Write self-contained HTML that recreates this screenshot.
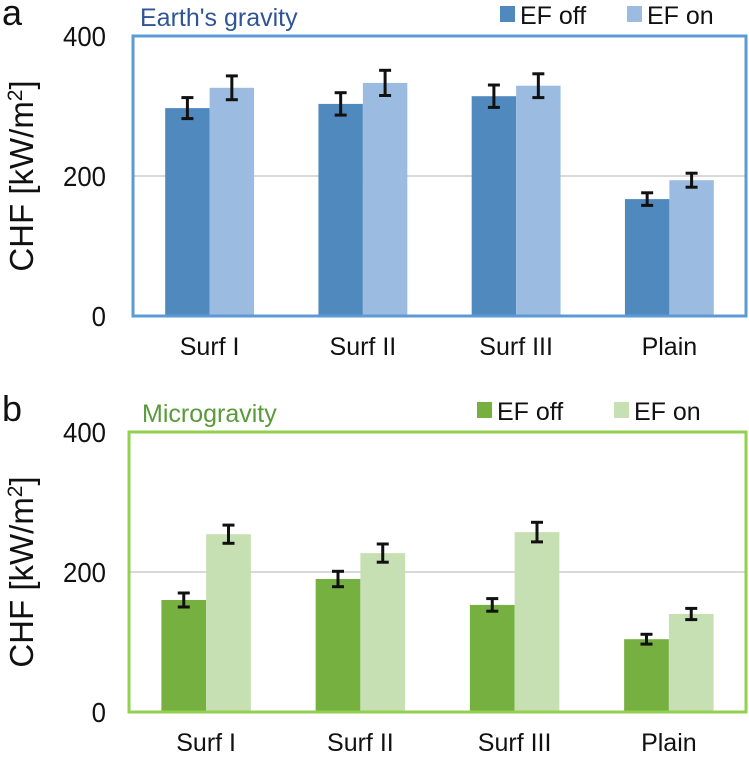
<!DOCTYPE html>
<html><head><meta charset="utf-8"><style>
html,body{margin:0;padding:0;background:#fff;}
svg{display:block;font-family:"Liberation Sans",Arial,sans-serif;}
</style></head><body>
<svg id="chart" width="749" height="758" viewBox="0 0 749 758"></svg>
<script>
const categories = ["Surf I","Surf II","Surf III","Plain"];
const yTicks = [0,200,400];
const earthOff = [297,303,314,167];
const earthOn = [326,333,329,194];
const earthOffErr = [15,16,16,9];
const earthOnErr = [17,18,17,10];
const microOff = [160,190,153,104];
const microOn = [254,227,257,140];
const microOffErr = [10,11,9,7];
const microOnErr = [13,13,14,8];

const NS="http://www.w3.org/2000/svg";
const svg=document.getElementById('chart');
function mk(tag,attrs,parent,text){const e=document.createElementNS(NS,tag);for(const k in attrs)e.setAttribute(k,attrs[k]);if(text!==undefined)e.textContent=text;(parent||svg).appendChild(e);return e;}

function panel(cfg){
  const g=mk('g',{});
  
  
  const L=cfg.left,R=746,T=cfg.top,B=cfg.bottom;
  const y=v=>B-(v/400)*(B-T);
  const cw=(R-L)/categories.length;
  const bw=cw*0.29;
  const x=i=>L+cw*(i+0.5);
  const gl=mk('line',{x1:L,x2:R,y1:y(200),y2:y(200),stroke:'#d9d9d9','stroke-width':2},g);
  
  
  const series=[[cfg.off,cfg.offErr,cfg.cOff,-1,'off'],[cfg.on,cfg.onErr,cfg.cOn,0,'on']];
  series.forEach(s=>{
    s[0].forEach((v,i)=>{
      const bx=x(i)+s[3]*bw;
      const r=mk('rect',{x:bx,y:y(v),width:bw,height:B-y(v),fill:s[2]},g);
      
      
    });
  });
  series.forEach(s=>{
    s[0].forEach((v,i)=>{
      const cx=x(i)+s[3]*bw+bw/2;
      const e=s[1][i];
      const eg=mk('g',{stroke:'#111','stroke-width':3},g);
      
      
      mk('line',{x1:cx,x2:cx,y1:y(v+e),y2:y(v-e)},eg);
      mk('line',{x1:cx-6,x2:cx+6,y1:y(v+e),y2:y(v+e)},eg);
      mk('line',{x1:cx-6,x2:cx+6,y1:y(v-e),y2:y(v-e)},eg);
    });
  });
  const ax=mk('line',{x1:L,x2:R,y1:B,y2:B,stroke:'#c8c8c8','stroke-width':3},g);
  
  
  const fr=mk('rect',{x:L,y:T,width:R-L,height:B-T,fill:'none',stroke:cfg.frame,'stroke-width':3},g);
  
  
  yTicks.forEach(t=>{
    const tx=mk('text',{x:106,y:y(t)+10,'text-anchor':'end','font-size':28,fill:'#111','transform':`translate(106 0) scale(0.92 1) translate(-106 0)`},g,String(t));
    
    
  });
  categories.forEach((c,i)=>{
    const tx=mk('text',{x:x(i),y:B+39,'text-anchor':'middle','font-size':25,fill:'#111'},g,c);
    
    
  });
  const yt=mk('text',{x:0,y:0,'text-anchor':'middle','font-size':33,fill:'#111',transform:`translate(33 ${(T+B)/2}) rotate(-90)`},g);
  
  
  mk('tspan',{},yt,'CHF [kW/m');
  mk('tspan',{dy:-11,'font-size':21},yt,'2');
  mk('tspan',{dy:11},yt,']');
  const pl=mk('text',{x:2,y:cfg.top-11,'font-size':36,fill:'#111'},g,cfg.letter);
  
  
  const tt=mk('text',{x:cfg.titleX,y:cfg.top-10,'font-size':cfg.titleSize,fill:cfg.titleColor},g,cfg.title);
  
  
  [[cfg.legX[0],cfg.cOff,'EF off'],[cfg.legX[1],cfg.cOn,'EF on']].forEach((l,k)=>{
    const lg=mk('g',{},g);
    
    
    mk('rect',{x:l[0],y:cfg.top-30,width:15,height:16,fill:l[1]},lg);
    mk('text',{x:l[0]+20,y:cfg.top-12,'font-size':25,fill:'#111'},lg,l[2]);
  });
}
panel({name:'earth-gravity-panel',left:133,top:36,bottom:316,off:earthOff,on:earthOn,offErr:earthOffErr,onErr:earthOnErr,
  cOff:'#4f89bd',cOn:'#9bbbe0',frame:'#5b9bd5',letter:'a',title:"Earth's gravity",titleSize:25,titleColor:'#2f5597',titleX:140,legX:[500,627]});
panel({name:'microgravity-panel',left:129,top:432,bottom:712,off:microOff,on:microOn,offErr:microOffErr,onErr:microOnErr,
  cOff:'#76b041',cOn:'#c6e0b4',frame:'#92d050',letter:'b',title:'Microgravity',titleSize:25,titleColor:'#5a9a3a',titleX:142,legX:[477,614]});
</script>
</body></html>
